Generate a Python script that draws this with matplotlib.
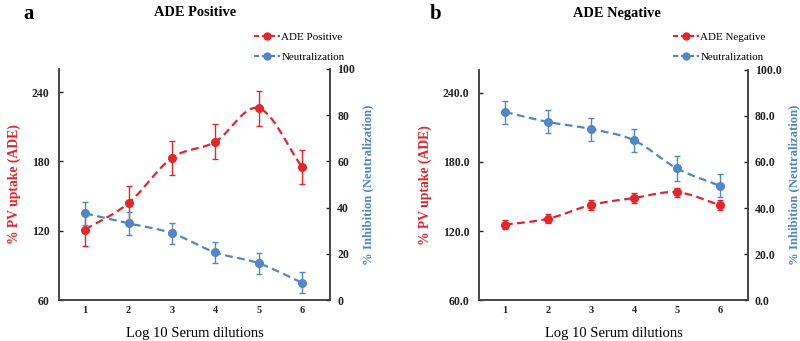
import numpy as np
import matplotlib
matplotlib.use("Agg")
import matplotlib.pyplot as plt
from matplotlib.lines import Line2D

plt.rcParams['font.family'] = ['Liberation Serif', 'DejaVu Serif']

RED = '#e2262b'
BLUE = '#4f87c7'

dilutions = [1, 2, 3, 4, 5, 6]

# panel a
ade_pos = [121, 144, 183, 197, 226, 175]
ade_pos_err = [14, 15, 15, 15, 15, 15]
neut_a = [37.5, 33.2, 28.9, 20.6, 15.9, 7.5]
neut_a_err = [5, 5, 4.6, 4.5, 4.5, 4.5]

# panel b
ade_neg = [125.5, 130.7, 142.6, 148.7, 153.7, 142.6]
ade_neg_err = [4, 4, 4, 4.5, 4, 4]
neut_b = [81.7, 77.4, 74.3, 69.4, 57.2, 49.6]
neut_b_err = [5, 5, 5, 5, 5.3, 5]


def smooth(x, y, n=20):
    # Catmull-Rom curve through the points, like Excel's smoothed line
    x = np.asarray(x, float)
    y = np.asarray(y, float)
    px = np.concatenate([[2 * x[0] - x[1]], x, [2 * x[-1] - x[-2]]])
    py = np.concatenate([[2 * y[0] - y[1]], y, [2 * y[-1] - y[-2]]])
    t = np.linspace(0, 1, n)
    xs, ys = [], []
    for i in range(1, len(px) - 2):
        for p, out in ((px, xs), (py, ys)):
            p0, p1, p2, p3 = p[i - 1], p[i], p[i + 1], p[i + 2]
            out.append(0.5 * ((2 * p1) + (-p0 + p2) * t
                              + (2 * p0 - 5 * p1 + 4 * p2 - p3) * t ** 2
                              + (-p0 + 3 * p1 - 3 * p2 + p3) * t ** 3))
    return np.concatenate(xs), np.concatenate(ys)


def draw_panel(rect, red_vals, red_err, blue_vals, blue_err, fmt):
    ax = fig.add_axes(rect)
    ax2 = ax.twinx()

    sx, sy = smooth(dilutions, red_vals)
    ax.plot(sx, sy, color=RED, ls='--', lw=1.6, dashes=(3.5, 2))
    ax.errorbar(dilutions, red_vals, yerr=red_err, fmt='o', color=RED,
                ms=5.5, capsize=2.5, elinewidth=1, capthick=1)

    sx, sy = smooth(dilutions, blue_vals)
    ax2.plot(sx, sy, color=BLUE, ls='--', lw=1.6, dashes=(3.5, 2))
    ax2.errorbar(dilutions, blue_vals, yerr=blue_err, fmt='o', color=BLUE,
                 ms=5.5, capsize=2.5, elinewidth=1, capthick=1)

    ax.set_xlim(0.4, 6.65)
    ax.set_ylim(60, 260)
    ax2.set_ylim(0, 100)
    ax.set_xticks(dilutions)
    ax.set_yticks([60, 120, 180, 240])
    ax.set_yticklabels([fmt.format(v) for v in [60, 120, 180, 240]])
    ax2.set_yticks([0, 20, 40, 60, 80, 100])
    ax2.set_yticklabels([fmt.format(v) for v in [0, 20, 40, 60, 80, 100]])

    for a in (ax, ax2):
        a.spines['top'].set_visible(False)
        for s in a.spines.values():
            s.set_color('#404040')
            s.set_linewidth(1.1)
        a.tick_params(labelsize=8.5, width=1, length=3, direction='in',
                      colors='#222222', pad=5)
        for lab in a.get_yticklabels():
            lab.set_fontweight('bold')
    ax.tick_params(axis='y', pad=7)
    ax.tick_params(axis='x', length=0, labelsize=7.5, pad=4)
    for lab in ax.get_xticklabels():
        lab.set_fontweight('bold')

    ax.set_ylabel('% PV uptake (ADE)', color=RED, fontsize=9.8,
                  fontweight='bold', labelpad=8)
    ax2.set_ylabel('% Inhibition (Neutralization)', color=BLUE, fontsize=9.2,
                   fontweight='bold', labelpad=5)
    ax.set_xlabel('Log 10 Serum dilutions', fontsize=10.5, labelpad=9)
    return ax


fig = plt.figure(figsize=(8, 3.41), dpi=100)

draw_panel([0.074, 0.120, 0.339, 0.678], ade_pos, ade_pos_err,
           neut_a, neut_a_err, '{:.0f}')
draw_panel([0.599, 0.120, 0.336, 0.675], ade_neg, ade_neg_err,
           neut_b, neut_b_err, '{:.1f}')

fig.text(0.029, 0.958, 'a', fontsize=15, fontweight='bold', va='center')
fig.text(0.537, 0.958, 'b', fontsize=15, fontweight='bold', va='center')
fig.text(0.244, 0.962, 'ADE Positive', fontsize=10.4, fontweight='bold',
         ha='center', va='center')
fig.text(0.771, 0.960, 'ADE Negative', fontsize=10.4, fontweight='bold',
         ha='center', va='center')


def legend(xpos, label):
    handles = [
        Line2D([], [], color=RED, ls='--', lw=1.5, dashes=(2.5, 1.3),
               marker='o', ms=5),
        Line2D([], [], color=BLUE, ls='--', lw=1.5, dashes=(2.5, 1.3),
               marker='o', ms=5),
    ]
    fig.legend(handles, [label, 'Neutralization'], loc='upper left',
               bbox_to_anchor=(xpos, 0.905), frameon=False, fontsize=7.9,
               handlelength=2.4, handletextpad=0.12, labelspacing=0.95,
               borderaxespad=0, borderpad=0)


legend(0.317, 'ADE Positive')
legend(0.841, 'ADE Negative')

fig.savefig('out.png', dpi=100)
